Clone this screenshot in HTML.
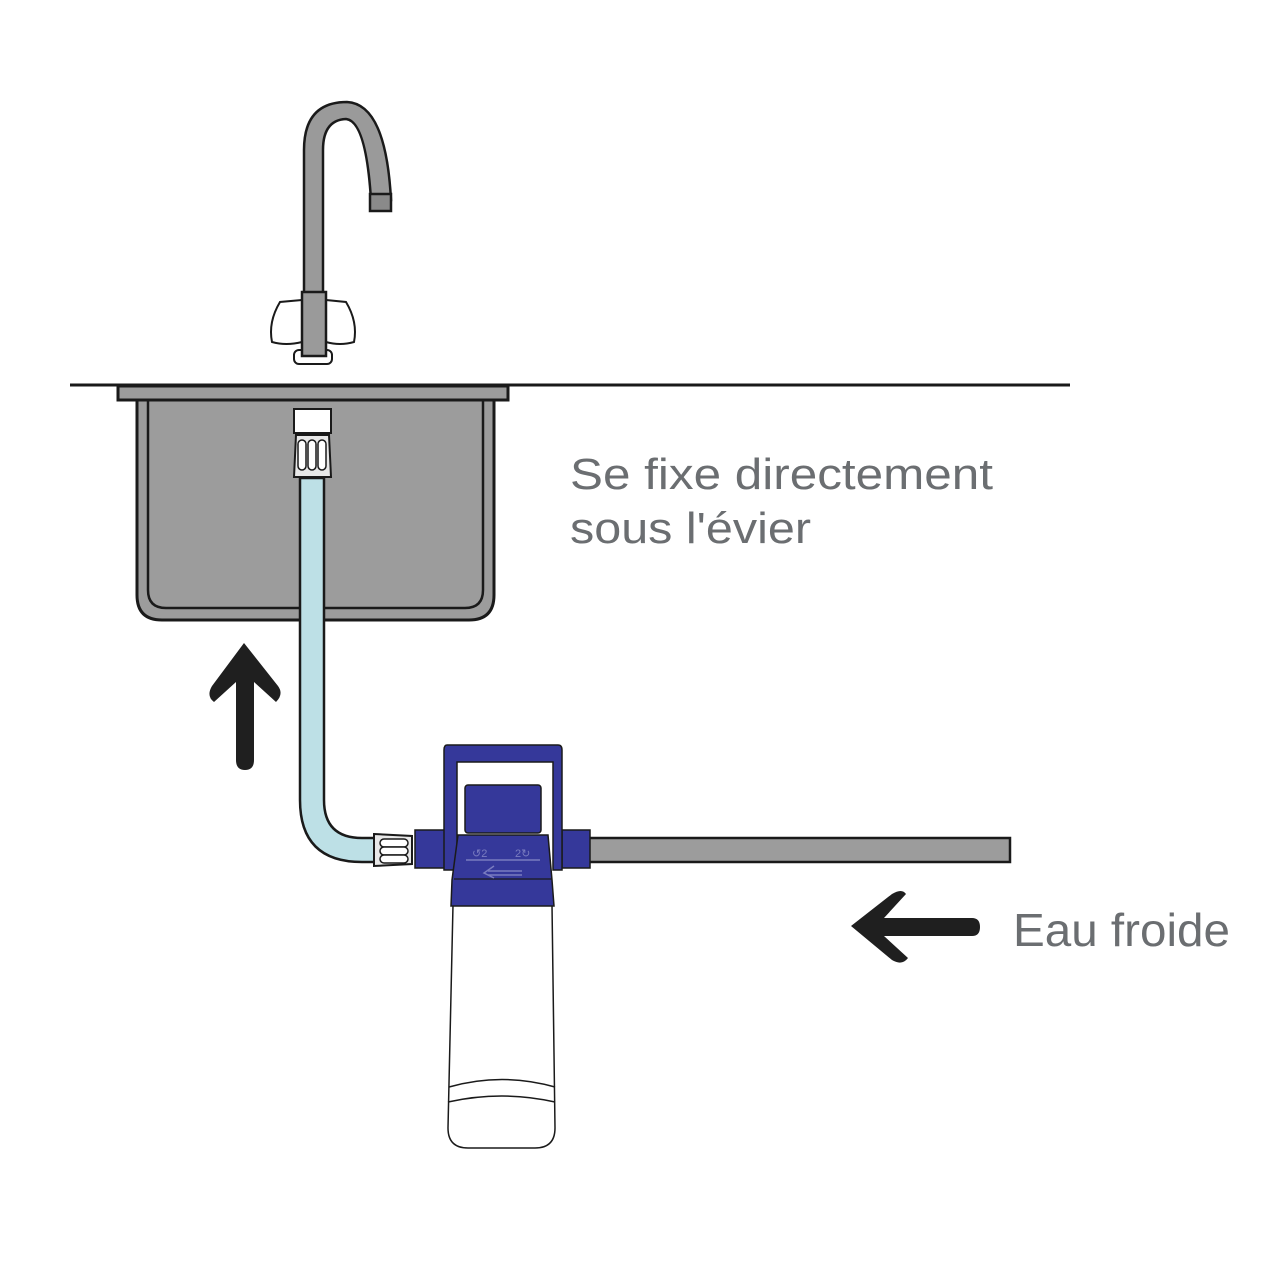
<!DOCTYPE html>
<html><head><meta charset="utf-8"><style>
html,body{margin:0;padding:0;background:#fff}
svg{display:block}
text{font-family:"Liberation Sans",sans-serif;fill:#6b6e71}
</style></head><body>
<svg width="1280" height="1280" viewBox="0 0 1280 1280" xmlns="http://www.w3.org/2000/svg">
<!-- faucet -->
<path d="M304 300 L304 150 Q304 102 347 102 Q386 104 391 200 L371 200 Q366 121 346 119 Q323 120 323 150 L323 300 Z" fill="#9a9a9a" stroke="#1a1a1a" stroke-width="2.5"/>
<rect x="370" y="194" width="21" height="17" fill="#8a8a8a" stroke="#1a1a1a" stroke-width="2.5"/>
<path d="M302 300 L280 302 Q268 322 272 342 Q286 346 302 342 Z" fill="#fff" stroke="#1a1a1a" stroke-width="2"/>
<path d="M326 300 L346 302 Q358 322 354 342 Q340 346 326 342 Z" fill="#fff" stroke="#1a1a1a" stroke-width="2"/>
<rect x="294" y="350" width="38" height="14" rx="5" fill="#fff" stroke="#1a1a1a" stroke-width="2"/>
<rect x="302" y="292" width="24" height="64" fill="#9a9a9a" stroke="#1a1a1a" stroke-width="2.5"/>
<!-- sink -->
<line x1="70" y1="385" x2="1070" y2="385" stroke="#1a1a1a" stroke-width="3"/>
<path d="M137 399 L137 595 Q137 620 162 620 L469 620 Q494 620 494 595 L494 399 Z" fill="#9c9c9c" stroke="#1a1a1a" stroke-width="3"/>
<path d="M148 399 L148 590 Q148 608 166 608 L465 608 Q483 608 483 590 L483 399" fill="none" stroke="#1a1a1a" stroke-width="2.5"/>
<rect x="118" y="386" width="390" height="14" fill="#9c9c9c" stroke="#1a1a1a" stroke-width="3"/>
<!-- hose -->
<path d="M300 478 L300 800 Q300 862 362 862 L376 862 L376 838 L362 838 Q324 838 324 800 L324 478 Z" fill="#bde0e6" stroke="#1a1a1a" stroke-width="2.5"/>
<rect x="294" y="409" width="37" height="24" fill="#fff" stroke="#1a1a1a" stroke-width="2"/>
<path d="M296 435 L329 435 L331 477 L294 477 Z" fill="#e8e8e8" stroke="#1a1a1a" stroke-width="2"/>
<rect x="298" y="440" width="8" height="30" rx="4" fill="#fff" stroke="#1a1a1a" stroke-width="1.5"/>
<rect x="308" y="440" width="8" height="30" rx="4" fill="#fff" stroke="#1a1a1a" stroke-width="1.5"/>
<rect x="318" y="440" width="8" height="30" rx="4" fill="#fff" stroke="#1a1a1a" stroke-width="1.5"/>
<path d="M374 834 L412 836 L412 864 L374 866 Z" fill="#e8e8e8" stroke="#1a1a1a" stroke-width="2"/>
<rect x="380" y="839" width="28" height="8" rx="4" fill="#fff" stroke="#1a1a1a" stroke-width="1.5"/>
<rect x="380" y="847" width="28" height="8" rx="4" fill="#fff" stroke="#1a1a1a" stroke-width="1.5"/>
<rect x="380" y="855" width="28" height="8" rx="4" fill="#fff" stroke="#1a1a1a" stroke-width="1.5"/>
<!-- right pipe -->
<rect x="588" y="838" width="422" height="24" fill="#9c9c9c" stroke="#1a1a1a" stroke-width="2.5"/>
<!-- filter body -->
<path d="M453 905 L552 905 L555 1128 Q555 1148 535 1148 L468 1148 Q448 1148 448 1128 Z" fill="#fff" stroke="#1a1a1a" stroke-width="1.5"/>
<path d="M449 1087 Q502 1072 555 1087" fill="none" stroke="#1a1a1a" stroke-width="1.5"/>
<path d="M448 1102 Q502 1090 555 1102" fill="none" stroke="#1a1a1a" stroke-width="1.5"/>
<!-- nuts -->
<rect x="415" y="830" width="30" height="38" fill="#35389a" stroke="#1a1a1a" stroke-width="1.5"/>
<rect x="562" y="830" width="28" height="38" fill="#35389a" stroke="#1a1a1a" stroke-width="1.5"/>
<!-- handle -->
<path d="M447 745 L558 745 Q562 745 562 750 L562 870 L553 870 L553 762 L457 762 L457 870 L444 870 L444 750 Q444 745 447 745 Z" fill="#35389a" stroke="#1a1a1a" stroke-width="1.5"/>
<!-- cap -->
<rect x="465" y="785" width="76" height="48" rx="3" fill="#35389a" stroke="#1a1a1a" stroke-width="1.5"/>
<path d="M458 835 L548 835 L552 880 L554 906 L451 906 L452 880 Z" fill="#35389a" stroke="#1a1a1a" stroke-width="1.5"/>
<line x1="454" y1="879" x2="552" y2="879" stroke="#1a1a1a" stroke-width="1.2"/>
<line x1="466" y1="860" x2="540" y2="860" stroke="#7a7cc0" stroke-width="1.5"/>
<path d="M522 871 L488 871 M494 866 L484 873 L494 878 M488 875 L522 875" fill="none" stroke="#7a7cc0" stroke-width="1.5"/>
<text x="472" y="857" font-size="11" style="fill:#7a7cc0">↺2</text>
<text x="515" y="857" font-size="11" style="fill:#7a7cc0">2↻</text>
<!-- arrows -->
<path d="M244 643 L212 686 Q206 696 214 702 L236 682 L236 760 Q236 770 245 770 Q254 770 254 760 L254 682 L276 702 Q284 694 278 686 Z" fill="#1f1f1f"/>
<path d="M851 926 L892 894 Q902 888 906 894 L884 918 L972 918 Q980 918 980 927 Q980 936 972 936 L884 936 L908 958 Q902 966 892 960 Z" fill="#1f1f1f"/>
<!-- text -->
<text x="570" y="489" font-size="44" textLength="423" lengthAdjust="spacingAndGlyphs">Se fixe directement</text>
<text x="570" y="543" font-size="44" textLength="241" lengthAdjust="spacingAndGlyphs">sous l'évier</text>
<text x="1013" y="946" font-size="46" textLength="217" lengthAdjust="spacingAndGlyphs">Eau froide</text>
</svg>
</body></html>
